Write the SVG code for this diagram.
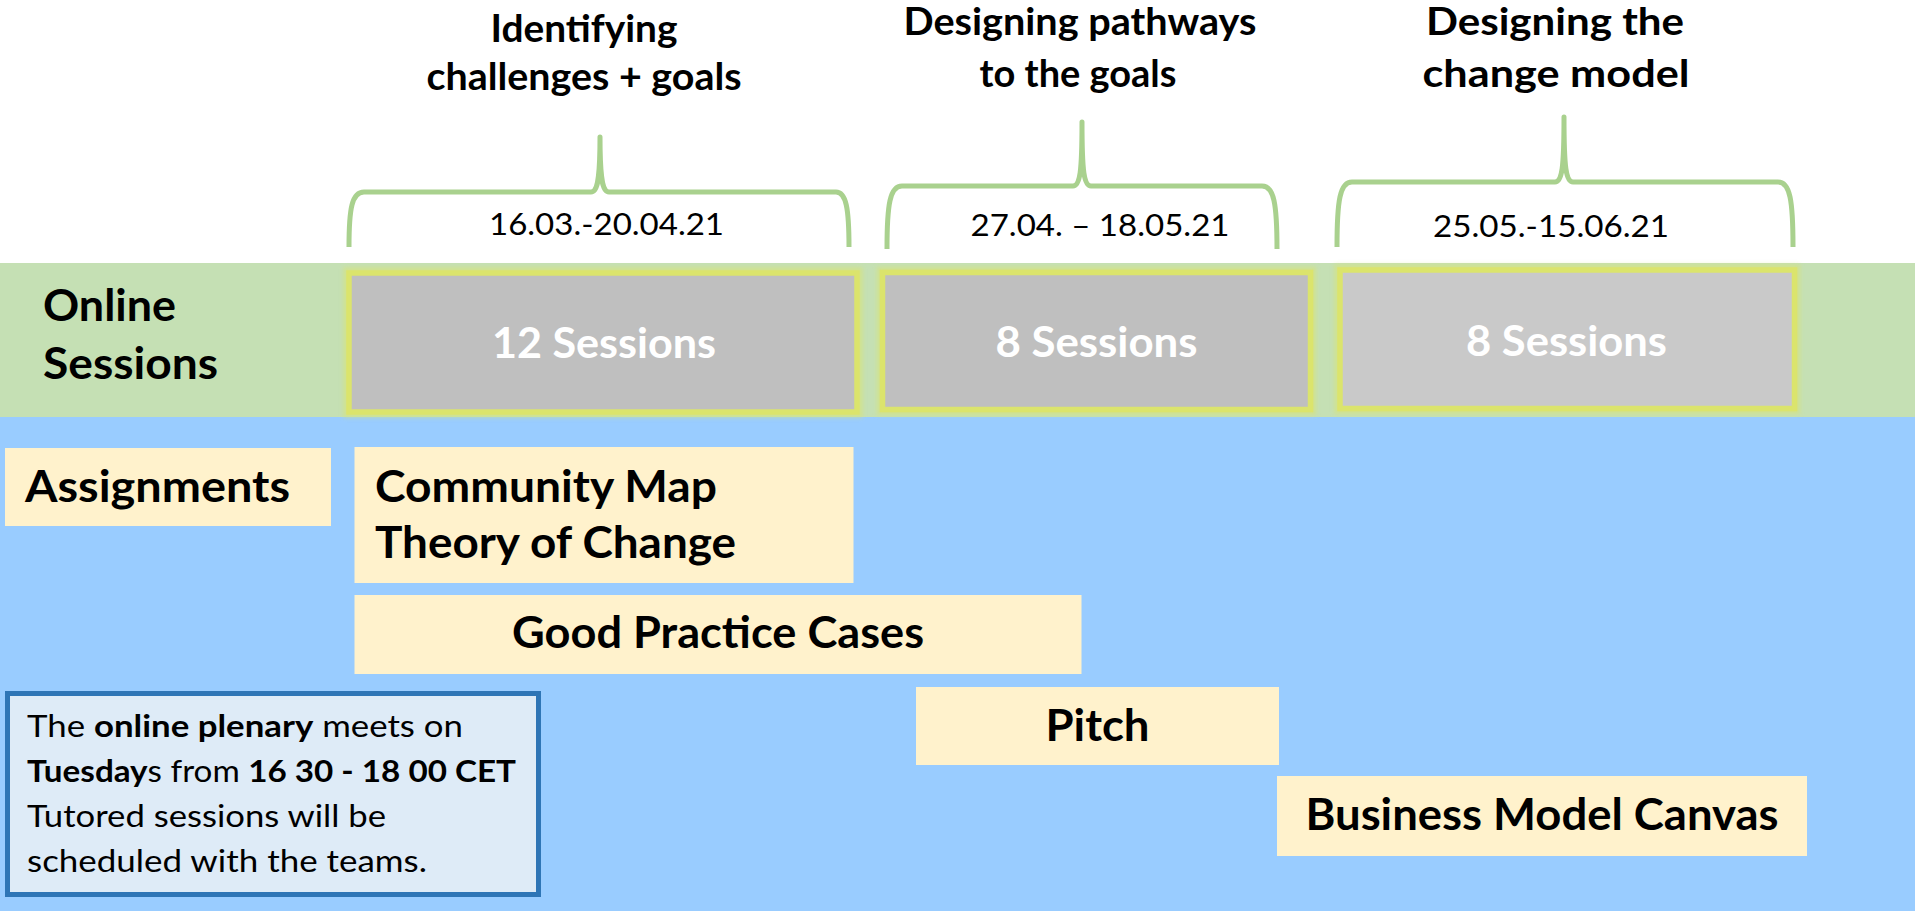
<svg xmlns="http://www.w3.org/2000/svg" width="1915" height="911" viewBox="0 0 1915 911">
<style>
.title{font-family:Lato,"Open Sans","Liberation Sans",sans-serif;font-weight:700;font-size:38px;fill:#000;text-anchor:middle}
.date{font-family:Lato,"Open Sans","Liberation Sans",sans-serif;font-weight:400;font-size:31px;fill:#000;text-anchor:middle}
.sess{font-family:Lato,"Open Sans","Liberation Sans",sans-serif;font-weight:700;font-size:42.5px;fill:#fff;text-anchor:middle}
.lbl{font-family:Lato,"Open Sans","Liberation Sans",sans-serif;font-weight:700;font-size:44px;fill:#000}
.mid{text-anchor:middle}
.note{font-family:Lato,"Open Sans","Liberation Sans",sans-serif;font-weight:400;font-size:30.5px;fill:#000}
.b{font-weight:700}
.brace{fill:none;stroke:#a9d18e;stroke-width:5;stroke-linecap:butt;stroke-linejoin:round}
.box{stroke:#dbe46c;stroke-width:5.5}
.glow{fill:none;stroke:#dbe46c;stroke-width:11;opacity:0.55}
.task{fill:#fff2cc}
</style>
<defs>
<filter id="blur" x="-5%" y="-10%" width="110%" height="120%">
<feGaussianBlur stdDeviation="2"/>
</filter>
</defs>

<g id="background">
<rect x="0" y="0" width="1915" height="911" fill="#ffffff"/>
<rect x="0" y="263" width="1915" height="154" fill="#c5e0b4"/>
<rect x="0" y="417" width="1915" height="494" fill="#99ccff"/>
</g>

<g id="phase1">
<text class="title" x="584" y="42" textLength="187" lengthAdjust="spacingAndGlyphs">Identifying</text>
<text class="title" x="584" y="90" textLength="315" lengthAdjust="spacingAndGlyphs">challenges + goals</text>
<path class="brace" d="M349,247 C349,208 352,192 364,192 L591,192 C598,192 600,178 600,137 C600,178 602,192 609,192 L836,192 C846,192 849,208 849,247"/>
<text class="date" x="606.5" y="235" textLength="235" lengthAdjust="spacingAndGlyphs">16.03.-20.04.21</text>
</g>

<g id="phase2">
<text class="title" x="1080" y="35" textLength="353" lengthAdjust="spacingAndGlyphs">Designing pathways</text>
<text class="title" x="1078" y="87" textLength="197" lengthAdjust="spacingAndGlyphs">to the goals</text>
<path class="brace" d="M887,249 C887,204 890,186 902,186 L1073,186 C1080,186 1082,172 1082,122 C1082,172 1084,186 1091,186 L1262,186 C1274,186 1277,204 1277,249"/>
<text class="date" x="1100" y="236" textLength="259" lengthAdjust="spacingAndGlyphs">27.04. – 18.05.21</text>
</g>

<g id="phase3">
<text class="title" x="1555" y="35" textLength="258" lengthAdjust="spacingAndGlyphs">Designing the</text>
<text class="title" x="1556" y="87" textLength="267" lengthAdjust="spacingAndGlyphs">change model</text>
<path class="brace" d="M1337,247 C1337,200 1340,182 1352,182 L1555,182 C1562,182 1564,168 1564,117 C1564,168 1566,182 1573,182 L1778,182 C1790,182 1793,200 1793,247"/>
<text class="date" x="1551" y="237" textLength="236" lengthAdjust="spacingAndGlyphs">25.05.-15.06.21</text>
</g>

<g id="online-sessions-label">
<text class="lbl" x="43" y="321" textLength="133" lengthAdjust="spacingAndGlyphs">Online</text>
<text class="lbl" x="43" y="379" textLength="175" lengthAdjust="spacingAndGlyphs">Sessions</text>
</g>

<g id="sessions1">
<rect class="glow" x="349" y="273" width="508" height="139" filter="url(#blur)"/>
<rect class="box" x="349" y="273" width="508" height="139" fill="#bfbfbf"/>
<text class="sess" x="604" y="358" textLength="224" lengthAdjust="spacingAndGlyphs">12 Sessions</text>
</g>

<g id="sessions2">
<rect class="glow" x="882.5" y="272.5" width="428" height="137" filter="url(#blur)"/>
<rect class="box" x="882.5" y="272.5" width="428" height="137" fill="#bfbfbf"/>
<text class="sess" x="1096.5" y="357" textLength="202" lengthAdjust="spacingAndGlyphs">8 Sessions</text>
</g>

<g id="sessions3">
<rect class="glow" x="1340" y="270" width="454.5" height="138.5" filter="url(#blur)"/>
<rect class="box" x="1340" y="270" width="454.5" height="138.5" fill="#c9c9c9"/>
<text class="sess" x="1566.5" y="356" textLength="201" lengthAdjust="spacingAndGlyphs">8 Sessions</text>
</g>

<g id="assignments">
<rect class="task" x="5" y="448" width="326" height="78"/>
<text class="lbl" x="25" y="502" textLength="265" lengthAdjust="spacingAndGlyphs">Assignments</text>
</g>

<g id="community-map">
<rect class="task" x="354.5" y="447" width="499" height="136"/>
<text class="lbl" x="375" y="502" textLength="342" lengthAdjust="spacingAndGlyphs">Community Map</text>
<text class="lbl" x="375" y="558" textLength="361" lengthAdjust="spacingAndGlyphs">Theory of Change</text>
</g>

<g id="good-practice">
<rect class="task" x="354.5" y="595" width="727" height="79"/>
<text class="lbl mid" x="718" y="648" textLength="412" lengthAdjust="spacingAndGlyphs">Good Practice Cases</text>
</g>

<g id="pitch">
<rect class="task" x="916" y="687" width="363" height="78"/>
<text class="lbl mid" x="1097.5" y="741" textLength="104" lengthAdjust="spacingAndGlyphs">Pitch</text>
</g>

<g id="business-model-canvas">
<rect class="task" x="1277" y="776" width="530" height="80"/>
<text class="lbl mid" x="1542" y="830" textLength="473" lengthAdjust="spacingAndGlyphs">Business Model Canvas</text>
</g>

<g id="note">
<rect x="7.5" y="693.5" width="531" height="201" fill="#deebf7" stroke="#2e75b6" stroke-width="5"/>
<text class="note" x="27" y="737" textLength="436" lengthAdjust="spacingAndGlyphs">The <tspan class="b">online plenary</tspan> meets on</text>
<text class="note" x="27" y="782" textLength="489" lengthAdjust="spacingAndGlyphs"><tspan class="b">Tuesday</tspan>s from <tspan class="b">16 30 - 18 00 CET</tspan></text>
<text class="note" x="27" y="827" textLength="359" lengthAdjust="spacingAndGlyphs">Tutored sessions will be</text>
<text class="note" x="27" y="872" textLength="400" lengthAdjust="spacingAndGlyphs">scheduled with the teams.</text>
</g>

<g id="connectors"></g>
</svg>
